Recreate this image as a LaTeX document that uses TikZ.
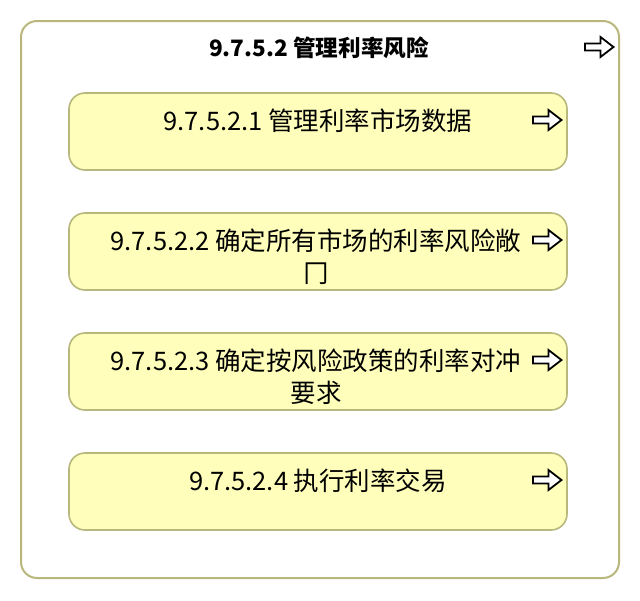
\documentclass[tikz,border=0pt]{standalone}
\usepackage{fontspec}
\setmainfont{Noto Sans CJK SC}
\definecolor{boxfill}{RGB}{255,255,187}
\definecolor{boxline}{RGB}{184,184,124}
\tikzset{
  outerbox/.style={draw=boxline, line width=2pt, rounded corners=16pt, fill=white},
  taskbox/.style={draw=boxline, line width=1.6pt, rounded corners=16pt, fill=boxfill, minimum width=498pt, minimum height=77pt, inner sep=0pt},
  lbl/.style={anchor=base, align=center, inner sep=0pt, font=\fontsize{25.5}{32}\selectfont},
  ttl/.style={anchor=base, inner sep=0pt, font=\fontsize{22.6}{26}\selectfont\bfseries},
  arrowicon/.style={draw=black, line width=1.8pt, fill=white, line join=miter}
}
\newcommand{\arrowat}[2]{%
  \draw[arrowicon] (#1,#2-3.5) -- ++(15.5,0) -- ++(0,-6.5) -- ++(13,10) -- ++(-13,10) -- ++(0,-6.5) -- ++(-15.5,0) -- cycle;}
\begin{document}
\begin{tikzpicture}[x=1pt,y=-1pt]
\useasboundingbox (0,0) rectangle (640,600);
\node[outerbox, minimum width=598pt, minimum height=557pt, inner sep=0pt] (outer) at (320,299.5) {};
\node[ttl] (title) at (319,56) {9.7.5.2 管理利率风险};
\arrowat{585}{47}
\node[taskbox] (b1) at (318,131.5) {};
\node[taskbox] (b2) at (318,251.5) {};
\node[taskbox] (b3) at (318,371.5) {};
\node[taskbox] (b4) at (318,491.5) {};
\node[lbl] (t1) at (318,130) {9.7.5.2.1 管理利率市场数据};
\node[lbl] (t2) at (316,282) {9.7.5.2.2 确定所有市场的利率风险敞\\冂};
\node[lbl] (t3) at (316,402) {9.7.5.2.3 确定按风险政策的利率对冲\\要求};
\node[lbl] (t4) at (318,490) {9.7.5.2.4 执行利率交易};
\arrowat{533}{120}
\arrowat{533}{240}
\arrowat{533}{360}
\arrowat{533}{480}
\end{tikzpicture}
\end{document}
